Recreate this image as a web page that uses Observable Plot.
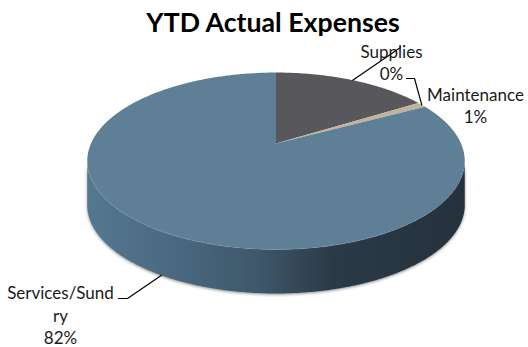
<!DOCTYPE html>
<html>
<head>
<meta charset="utf-8">
<script src="https://cdn.jsdelivr.net/npm/d3@7"></script>
<script src="https://cdn.jsdelivr.net/npm/@observablehq/plot@0.6"></script>
<style>
  html, body { margin: 0; padding: 0; background: #fff; }
  svg { display: block; }
</style>
</head>
<body>
<div id="chart"></div>
<script>
// Expense shares, clockwise from twelve o'clock.
const categories = ["Other", "Supplies", "Maintenance", "Services/Sundry"];
const shares = [16, 0, 1, 82];
const sliceColors = ["#58585c", "#58585c", "#c0b39d", "#5f7f97"];
const chartTitle = "YTD Actual Expenses";

const width = 528, height = 347;

// Tilted-disc projection: the centre sits above the middle of the ellipse.
const apex = [275.5, 143];
const tilt = 0.198, scaleX = 185, scaleY = 85, depth = 44;
function project(theta, drop = 0) {
  const u = Math.sin(theta), v = Math.cos(theta), w = 1 + tilt * v;
  return [apex[0] + scaleX * u / w, apex[1] - scaleY * v / w + drop];
}

const arcs = d3.pie().sort(null).value(d => d)(shares);
const angleOf = name => {
  const a = arcs[categories.indexOf(name)];
  return (a.startAngle + a.endAngle) / 2;
};
const sweep = (a0, a1, drop = 0) => {
  const n = Math.max(2, Math.ceil(Math.abs(a1 - a0) / 0.01));
  return d3.range(n + 1).map(i => project(a0 + (a1 - a0) * i / n, drop));
};

const faces = arcs
  .filter(a => a.value > 0)
  .map(a => ({
    color: sliceColors[a.index],
    points: [apex, ...sweep(a.startAngle, a.endAngle)]
  }));

// The visible wall runs between the two horizontal extremes of the ellipse.
const edge = Math.acos(-tilt);
const wallPoints = [
  ...sweep(edge, 2 * Math.PI - edge),
  ...sweep(2 * Math.PI - edge, edge, depth)
];
const rimPoints = sweep(edge + 0.5, 2 * Math.PI - edge - 0.12);

// Callouts: each label, the point its leader starts from and its elbow.
const pct = name => `${shares[categories.indexOf(name)]}%`;
const callouts = [
  { text: `Supplies\n${pct("Supplies")}`, at: [391, 61], start: project(angleOf("Other")), path: [[400, 47]] },
  { text: `Maintenance\n${pct("Maintenance")}`, at: [475, 104.5], start: project(angleOf("Maintenance")), path: [[414, 78], [406, 78]] },
  { text: `Services/Sund\nry\n${pct("Services/Sundry")}`, at: [60, 314], start: project(angleOf("Services/Sundry"), depth), path: [[127, 298], [118, 298]] }
];

const shape = (points, options) =>
  Plot.line(points, { x: d => d[0], y: d => d[1], curve: "linear", ...options });

const defs = () => {
  const svg = d3.create("svg:defs");
  const g = svg.append("linearGradient")
    .attr("id", "wall").attr("gradientUnits", "userSpaceOnUse")
    .attr("x1", 86).attr("x2", 464).attr("y1", 0).attr("y2", 0);
  [[0, "#547890"], [0.2, "#4b6b83"], [0.45, "#3f586b"], [0.65, "#2b3a47"], [1, "#25323d"]]
    .forEach(([o, c]) => g.append("stop").attr("offset", o).attr("stop-color", c));
  return svg.node();
};

const chart = Plot.plot({
  width, height,
  margin: 0,
  x: { domain: [0, width], range: [0, width], axis: null },
  y: { domain: [0, height], range: [0, height], axis: null },
  marks: [
    defs,
    shape(wallPoints, { fill: "url(#wall)", stroke: "none", imageFilter: "drop-shadow(0.5px 1.5px 1.5px rgba(0,0,0,0.45))" }),
    ...faces.map(f => shape(f.points, { fill: f.color, stroke: "none" })),
    shape(rimPoints, { stroke: "#86a2b6", strokeWidth: 0.8, strokeOpacity: 0.45 }),
    ...callouts.map(c => shape([c.start, ...c.path], { stroke: "#000", strokeWidth: 1.2 })),
    Plot.text(callouts, {
      x: d => d.at[0], y: d => d.at[1], text: d => d.text,
      fontFamily: "Lato", fontSize: 17, lineHeight: 1.3, fill: "#1a1a1a"
    }),
    Plot.text([chartTitle], {
      x: () => 272.5, y: () => 23, text: d => d,
      fontFamily: "Lato", fontSize: 26.7, fontWeight: 700, fill: "#000"
    })
  ]
});
document.getElementById("chart").append(chart);
</script>
</body>
</html>
